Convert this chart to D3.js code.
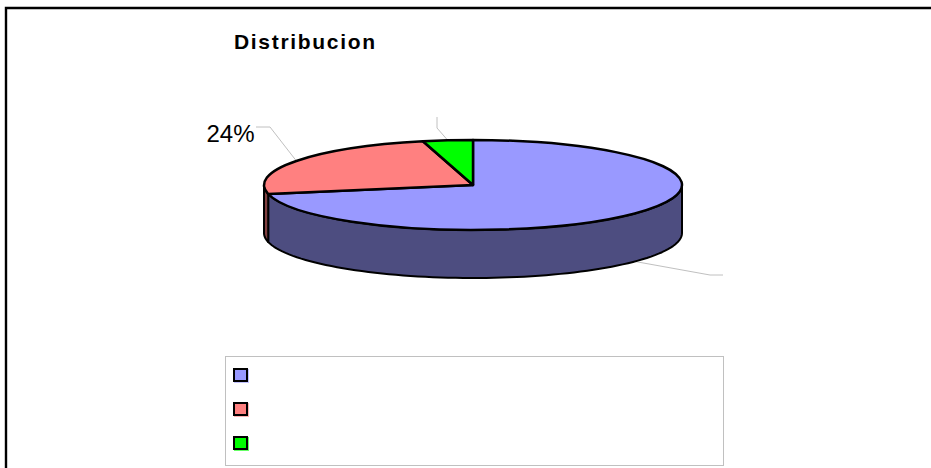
<!DOCTYPE html>
<html><head><meta charset="utf-8">
<script src="https://cdn.jsdelivr.net/npm/d3@7/dist/d3.min.js"></script>
<style>html,body{margin:0;padding:0;background:#fff;overflow:hidden}svg{display:block}</style>
</head><body><div id="c"></div>
<script>
const titleText = "Distribucion";
const shares = [71.8, 24.35, 3.85];
const labels = ["", "24%", ""];
const topColors = ["#9999ff", "#ff8080", "#00ff00"];
const wallColors = ["#4d4d80", "#804040", "#008000"];

const W = 931, H = 468, cx = 473, cy = 185, rx = 209, ry = 45, depth = 48;
const svg = d3.select("#c").append("svg").attr("width", W).attr("height", H);

// frame
svg.append("path").attr("d", `M6,${H+2}V8H${W+2}`).attr("fill", "none").attr("stroke", "#000").attr("stroke-width", 2.4);

svg.append("text").attr("x", 234).attr("y", 48.5)
  .attr("font-family", "'Liberation Sans',Arial,sans-serif").attr("font-weight", 700)
  .attr("font-size", 21).attr("letter-spacing", 1.68).attr("fill", "#000").text(titleText);

const pie = d3.pie().sort(null).value(d => d)(shares);
const px = d3.scaleLinear().domain([-1, 1]).range([cx - rx, cx + rx]);
const py = d3.scaleLinear().domain([-1, 1]).range([cy - ry, cy + ry]);
const pt = (a, k = 1) => [px(k * Math.sin(a)), py(-k * Math.cos(a))];

// leader lines (behind the pie)
const leaders = [
  { i: 0, k: 1, dz: depth, via: [[710, 275], [723, 275]] },
  { i: 1, k: 1, dz: 0, via: [[270, 127], [256, 127]] },
  { i: 2, k: 1, dz: 0, via: [[437, 128], [437, 117]] }
];
const line = d3.line();
leaders.forEach(l => {
  const p = pie[l.i], mid = (p.startAngle + p.endAngle) / 2;
  const s = pt(mid, l.k);
  svg.append("path").attr("d", line([[s[0], s[1] + l.dz], ...l.via]))
    .attr("fill", "none").attr("stroke", "#c0c0c0").attr("stroke-width", 1);
});

// walls: only the front half (90deg..270deg) of each slice is visible
const lo = Math.PI / 2, hi = 3 * Math.PI / 2;
pie.forEach((p, i) => {
  const a = Math.max(p.startAngle, lo), b = Math.min(p.endAngle, hi);
  if (b <= a) return;
  const n = 80, arc = d3.range(n + 1).map(j => pt(a + (b - a) * j / n));
  const ring = [...arc, ...arc.slice().reverse().map(q => [q[0], q[1] + depth])];
  svg.append("path").attr("d", line(ring) + "Z").attr("fill", wallColors[i])
    .attr("stroke", "#000").attr("stroke-width", 2).attr("stroke-linejoin", "round");
});

// tops
const sy = ry / rx;
const arcGen = d3.arc().innerRadius(0).outerRadius(rx);
const g = svg.append("g").attr("transform", `translate(${cx},${cy}) scale(1,${sy})`);
g.selectAll("path").data(pie).join("path").attr("d", arcGen)
  .attr("fill", (d, i) => topColors[i]).attr("stroke", "#000").attr("stroke-width", 2.5)
  .attr("stroke-linejoin", "round").attr("vector-effect", "non-scaling-stroke");

// value labels
svg.append("text").attr("x", 254.5).attr("y", 141.5).attr("text-anchor", "end")
  .attr("font-family", "'Liberation Sans',Arial,sans-serif").attr("font-size", 24).attr("fill", "#000")
  .text(labels[1]);

// legend
svg.append("rect").attr("x", 225.5).attr("y", 356.5).attr("width", 498).attr("height", 109)
  .attr("fill", "#fff").attr("stroke", "#c0c0c0");
const ly = d3.scalePoint().domain(d3.range(shares.length)).range([369, 437]);
shares.forEach((_, i) => {
  svg.append("rect").attr("x", 234).attr("y", ly(i)).attr("width", 15).attr("height", 14)
    .attr("fill", topColors[i]).attr("opacity", 0.6);
  svg.append("rect").attr("x", 234).attr("y", ly(i)).attr("width", 13).attr("height", 12)
    .attr("fill", topColors[i]).attr("stroke", "#000").attr("stroke-width", 2);
});
</script></body></html>
